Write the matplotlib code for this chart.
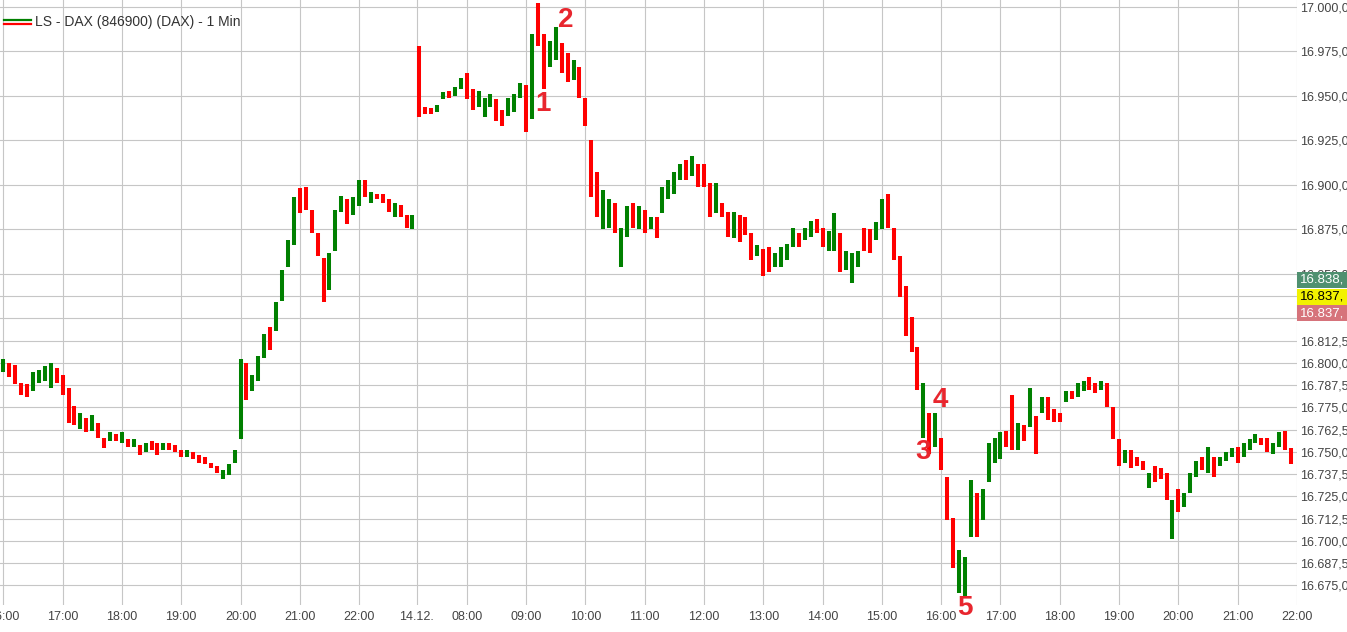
import numpy as np
import matplotlib.pyplot as plt
from matplotlib.patches import Rectangle
from matplotlib.lines import Line2D

plt.rcParams['font.family'] = ['Liberation Sans', 'DejaVu Sans']

# 6 minute bars (high / low / direction)
BAR_MIN = 6

day1_start = "16:00"
day1_high = [
    16802, 16800, 16799, 16789, 16788, 16795, 16796, 16798, 16800, 16797,
    16793, 16786, 16776, 16772, 16769, 16771, 16766, 16758, 16761, 16760,
    16761, 16757, 16757, 16754, 16755, 16756, 16755, 16755, 16755, 16754,
    16751, 16751, 16750, 16748, 16747, 16744, 16742, 16740, 16743, 16751,
    16802, 16800, 16793, 16804, 16816, 16820, 16834, 16852, 16869, 16893,
    16898, 16899, 16886, 16873, 16859, 16862, 16886, 16894, 16892, 16893,
    16903, 16903, 16896, 16895, 16895, 16892, 16890, 16889, 16883, 16883,
]
day1_low = [
    16795, 16792, 16788, 16782, 16781, 16784, 16789, 16790, 16786, 16789,
    16782, 16766, 16765, 16763, 16761, 16762, 16758, 16752, 16756, 16756,
    16755, 16753, 16753, 16748, 16750, 16751, 16748, 16751, 16751, 16750,
    16747, 16747, 16746, 16744, 16743, 16741, 16738, 16735, 16737, 16744,
    16757, 16779, 16784, 16790, 16803, 16807, 16818, 16835, 16854, 16866,
    16884, 16886, 16873, 16860, 16834, 16841, 16863, 16885, 16878, 16883,
    16888, 16893, 16890, 16892, 16890, 16885, 16882, 16882, 16876, 16875,
]
day1_dir = ("GRRRRGGGGR" "RRRGRGRRGR" "GRGRGRRGRR" "RGRRRRRGGG"
            "GRGGGRGGGG" "RRRRRGGGRG" "GRGRRRGRRG")

day2_start = "07:12"
day2_high = [
    16978, 16944, 16943, 16945, 16952, 16953, 16955, 16960, 16963, 16954,
    16953, 16949, 16951, 16948, 16942, 16949, 16951, 16957, 16956, 16985,
    17002, 16985, 16981, 16989, 16980, 16974, 16970, 16966, 16949, 16925,
    16907, 16897, 16892, 16890, 16876, 16888, 16890, 16888, 16886, 16882,
    16882, 16899, 16903, 16907, 16912, 16914, 16916, 16912, 16912, 16901,
    16901, 16890, 16885, 16885, 16883, 16882, 16873, 16866, 16864, 16865,
    16862, 16865, 16867, 16876, 16873, 16876, 16880, 16881, 16876, 16874,
    16884, 16873, 16863, 16862, 16863, 16876, 16875, 16879, 16892, 16895,
    16876, 16860, 16843, 16826, 16809, 16789, 16772, 16772, 16758, 16736,
    16713, 16695, 16691, 16734, 16727, 16729, 16755, 16758, 16761, 16762,
    16782, 16766, 16765, 16786, 16770, 16781, 16781, 16774, 16772, 16784,
    16784, 16789, 16790, 16792, 16789, 16790, 16789, 16775, 16757, 16751,
    16751, 16747, 16745, 16738, 16742, 16741, 16738, 16723, 16729, 16727,
    16738, 16745, 16747, 16753, 16747, 16747, 16750, 16752, 16753, 16755,
    16757, 16760, 16758, 16758, 16755, 16761, 16762, 16752,
]
day2_low = [
    16938, 16940, 16940, 16941, 16948, 16949, 16950, 16954, 16948, 16942,
    16944, 16938, 16944, 16936, 16933, 16939, 16941, 16949, 16930, 16937,
    16978, 16954, 16966, 16970, 16963, 16958, 16959, 16949, 16933, 16893,
    16882, 16875, 16876, 16873, 16854, 16871, 16876, 16875, 16873, 16875,
    16870, 16884, 16892, 16895, 16903, 16903, 16905, 16899, 16899, 16882,
    16884, 16882, 16871, 16870, 16868, 16872, 16858, 16860, 16849, 16851,
    16854, 16854, 16858, 16865, 16865, 16869, 16871, 16873, 16865, 16863,
    16863, 16851, 16852, 16845, 16854, 16863, 16862, 16869, 16875, 16876,
    16858, 16837, 16815, 16806, 16785, 16758, 16749, 16753, 16740, 16712,
    16685, 16671, 16669, 16702, 16702, 16712, 16733, 16744, 16746, 16753,
    16751, 16751, 16756, 16764, 16749, 16772, 16768, 16767, 16767, 16778,
    16780, 16781, 16784, 16785, 16783, 16785, 16775, 16757, 16742, 16744,
    16741, 16742, 16740, 16730, 16733, 16735, 16723, 16701, 16716, 16719,
    16727, 16736, 16740, 16738, 16736, 16742, 16745, 16747, 16744, 16747,
    16751, 16755, 16754, 16750, 16749, 16753, 16751, 16743,
]
day2_dir = ("RRRGGRGGRR" "GGGRRGGGRG" "RRGGRRGRRR" "RGGRGGRGRG"
            "RGGGGRGRRR" "GRRGRRRGRR" "GGGGRGGRRG" "GRGGGRRGGR"
            "RRRRRGRGRR" "RGGGRGGGGR" "RGRGRGRRRG" "RGGRRGRRRG"
            "RRRGRRRGRG" "GGRGRGGGRG" "GGRRGGRR")

x_labels = ["16:00", "17:00", "18:00", "19:00", "20:00", "21:00", "22:00",
            "14.12.", "08:00", "09:00", "10:00", "11:00", "12:00", "13:00",
            "14:00", "15:00", "16:00", "17:00", "18:00", "19:00", "20:00",
            "21:00", "22:00"]
y_grid = [17000, 16975, 16950, 16925, 16900, 16875, 16850, 16837.5, 16825,
          16812.5, 16800, 16787.5, 16775, 16762.5, 16750, 16737.5, 16725,
          16712.5, 16700, 16687.5, 16675]
# these two sit behind the price tags
hidden_labels = [16837.5, 16825]

tags = [("16.838,", "#4f9070", "white"),
        ("16.837,", "#f2f200", "black"),
        ("16.837,", "#d6737b", "white")]

# chart markers: label, day, clock time, price
marks = [("1", 2, "09:17", 16945.5), ("2", 2, "09:40", 16992.5),
         ("3", 2, "15:42", 16750), ("4", 2, "15:59", 16779),
         ("5", 2, "16:24", 16662.5)]

# time axis without the night: day 1 counts from 16:00, day 2 is shifted
DAY2_SHIFT = 0.185
DAY_BREAK = 6.968


def clock(s):
    h, m = s.split(":")
    return int(h) + int(m) / 60


def pos(day, s):
    return clock(s) - 16 if day == 1 else clock(s) - DAY2_SHIFT


def de_num(v):
    s = "{:,.2f}".format(v)
    return s.replace(",", "X").replace(".", ",").replace("X", ".")


GREEN = "#008000"
RED = "#ff0000"

fig = plt.figure(figsize=(13.47, 6.32), dpi=100)
ax = fig.add_axes([0, 27 / 632, 1297 / 1347, 605 / 632])

for day, start, hi, lo, dirs in [(1, day1_start, day1_high, day1_low, day1_dir),
                                  (2, day2_start, day2_high, day2_low, day2_dir)]:
    x = pos(day, start) + np.arange(len(hi)) * BAR_MIN / 60
    cols = [GREEN if d == "G" else RED for d in dirs]
    ax.vlines(x, lo, hi, colors=cols, linewidth=2.9, zorder=3)

ax.set_xlim(-0.0557, 21.815)
ax.set_ylim(16664.0, 17003.9)

xt = [pos(1, s) for s in x_labels[:7]] + [DAY_BREAK] + [pos(2, s) for s in x_labels[8:]]
ax.set_xticks(xt)
ax.set_xticklabels(x_labels)
ax.set_yticks(y_grid)
ax.set_yticklabels(["" if v in hidden_labels else de_num(v) for v in y_grid])
ax.yaxis.tick_right()
ax.tick_params(axis="both", length=0, labelsize=9, labelcolor="#444444")
ax.tick_params(axis="x", pad=4)
ax.tick_params(axis="y", pad=2)
ax.grid(True, color="#c6c6c6", linewidth=0.8)
ax.set_axisbelow(True)
for s in ax.spines.values():
    s.set_visible(False)

for lab, day, t, p in marks:
    ax.text(pos(day, t), p, lab, color="#e8262e", fontsize=20, fontweight="bold",
            ha="center", va="center", clip_on=False, zorder=5)

# price tags on the right edge
for k, (txt, bg, fg) in enumerate(tags):
    y0 = 1 - (272 + 16.5 * k) / 632
    fig.add_artist(Rectangle((1297 / 1347, y0 - 16 / 632), 50 / 1347, 16 / 632,
                             transform=fig.transFigure, facecolor=bg,
                             edgecolor="none", zorder=6))
    fig.text(1300 / 1347, y0 - 8 / 632, txt, color=fg, fontsize=9.5,
             va="center", ha="left", zorder=7)

# legend in the top left corner
fig.add_artist(Line2D([4 / 1347, 31 / 1347], [1 - 20 / 632] * 2, color=GREEN,
                      linewidth=1.6, transform=fig.transFigure))
fig.add_artist(Line2D([4 / 1347, 31 / 1347], [1 - 24 / 632] * 2, color=RED,
                      linewidth=1.6, transform=fig.transFigure))
fig.text(35 / 1347, 1 - 22 / 632, "LS - DAX (846900) (DAX) - 1 Min",
         fontsize=10, color="#333333", va="center", ha="left")

fig.savefig("out.png", dpi=100)
